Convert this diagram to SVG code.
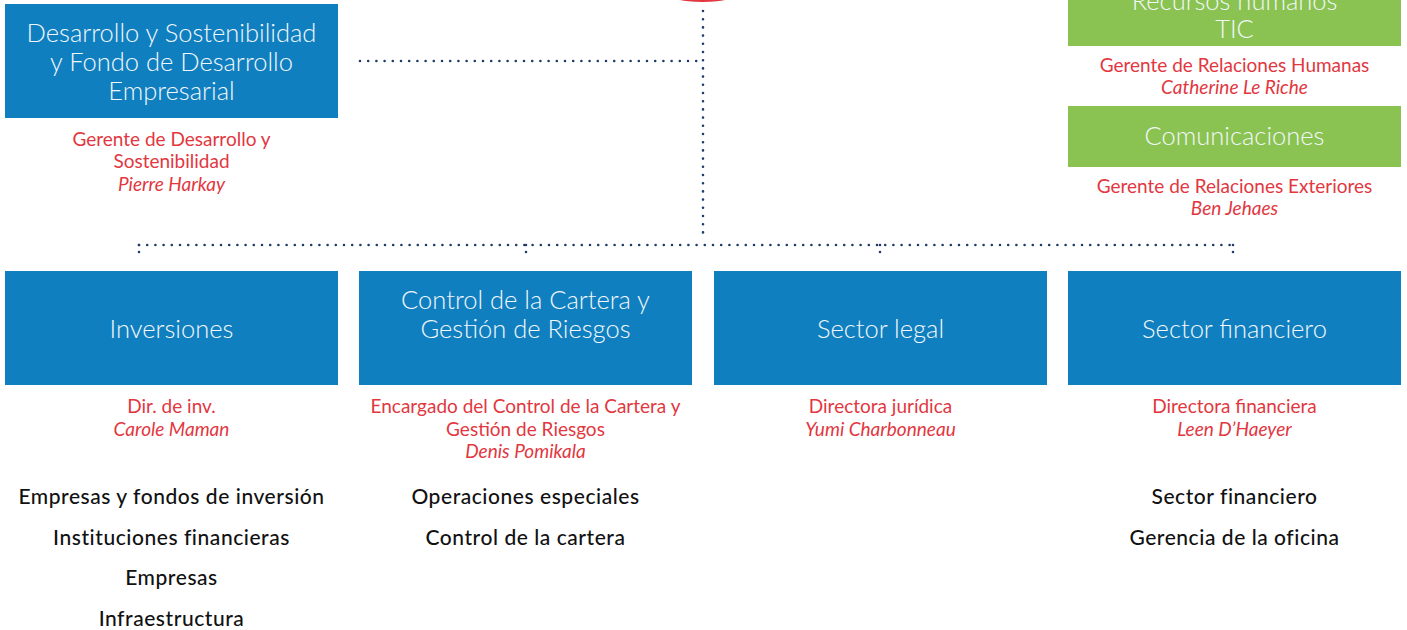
<svg xmlns="http://www.w3.org/2000/svg" width="1407" height="630" viewBox="0 0 1407 630">
<style>
.blue{fill:#107fc0}
.green{fill:#8bc352}
.wt{font-family:Lato,"Noto Sans",sans-serif;font-weight:300;font-size:25.5px;fill:#f2f7fb;text-anchor:middle}
.rt{font-family:Lato,"Noto Sans",sans-serif;font-size:19px;fill:#e2373f;text-anchor:middle}
.it{font-style:italic}
.bt{font-family:Lato,"Noto Sans",sans-serif;font-weight:500;font-size:21px;letter-spacing:0.55px;fill:#111;text-anchor:middle}
.dot{fill:none;stroke:#1f3a6b;stroke-width:2.6;stroke-linecap:round;stroke-dasharray:0 8.2}
.dot2{fill:none;stroke:#1f3a6b;stroke-width:2.6;stroke-linecap:round;stroke-dasharray:0 7}
</style>
<g id="connectors">
<path class="dot" d="M703 11 V233"/>
<path class="dot" d="M360 61 H703"/>
<path class="dot" d="M139 245 H1233"/>
<path class="dot2" d="M139 245 V259"/>
<path class="dot2" d="M526 245 V259"/>
<path class="dot2" d="M880 245 V259"/>
<path class="dot2" d="M1233 245 V259"/>
</g>
<g id="top-node">
<ellipse cx="702.5" cy="-8" rx="37.5" ry="10" fill="#e2373f"/>
</g>
<g id="desarrollo">
<rect class="blue" x="5" y="4" width="333" height="114"/>
<text class="wt" x="171.5" y="42">Desarrollo y Sostenibilidad</text>
<text class="wt" x="171.5" y="71">y Fondo de Desarrollo</text>
<text class="wt" x="171.5" y="100">Empresarial</text>
<text class="rt" x="171.5" y="146">Gerente de Desarrollo y</text>
<text class="rt" x="171.5" y="168">Sostenibilidad</text>
<text class="rt it" x="171.5" y="191">Pierre Harkay</text>
</g>
<g id="rrhh">
<rect class="green" x="1068" y="-20" width="333" height="66"/>
<text class="wt" x="1234.5" y="10">Recursos humanos</text>
<text class="wt" x="1234.5" y="38">TIC</text>
<text class="rt" x="1234.5" y="72">Gerente de Relaciones Humanas</text>
<text class="rt it" x="1234.5" y="94">Catherine Le Riche</text>
</g>
<g id="comunicaciones">
<rect class="green" x="1068" y="106" width="333" height="61"/>
<text class="wt" x="1234.5" y="145">Comunicaciones</text>
<text class="rt" x="1234.5" y="193">Gerente de Relaciones Exteriores</text>
<text class="rt it" x="1234.5" y="215">Ben Jehaes</text>
</g>
<g id="inversiones">
<rect class="blue" x="5" y="271" width="333" height="114"/>
<text class="wt" x="171.5" y="338">Inversiones</text>
<text class="rt" x="171.5" y="413">Dir. de inv.</text>
<text class="rt it" x="171.5" y="436">Carole Maman</text>
<text class="bt" x="171.5" y="504">Empresas y fondos de inversión</text>
<text class="bt" x="171.5" y="545">Instituciones financieras</text>
<text class="bt" x="171.5" y="585">Empresas</text>
<text class="bt" x="171.5" y="626">Infraestructura</text>
</g>
<g id="control">
<rect class="blue" x="359" y="271" width="333" height="114"/>
<text class="wt" x="525.5" y="309">Control de la Cartera y</text>
<text class="wt" x="525.5" y="338">Gestión de Riesgos</text>
<text class="rt" x="525.5" y="413">Encargado del Control de la Cartera y</text>
<text class="rt" x="525.5" y="436">Gestión de Riesgos</text>
<text class="rt it" x="525.5" y="458">Denis Pomikala</text>
<text class="bt" x="525.5" y="504">Operaciones especiales</text>
<text class="bt" x="525.5" y="545">Control de la cartera</text>
</g>
<g id="legal">
<rect class="blue" x="714" y="271" width="333" height="114"/>
<text class="wt" x="880.5" y="338">Sector legal</text>
<text class="rt" x="880.5" y="413">Directora jurídica</text>
<text class="rt it" x="880.5" y="436">Yumi Charbonneau</text>
</g>
<g id="financiero">
<rect class="blue" x="1068" y="271" width="333" height="114"/>
<text class="wt" x="1234.5" y="338">Sector financiero</text>
<text class="rt" x="1234.5" y="413">Directora financiera</text>
<text class="rt it" x="1234.5" y="436">Leen D’Haeyer</text>
<text class="bt" x="1234.5" y="504">Sector financiero</text>
<text class="bt" x="1234.5" y="545">Gerencia de la oficina</text>
</g>
</svg>
